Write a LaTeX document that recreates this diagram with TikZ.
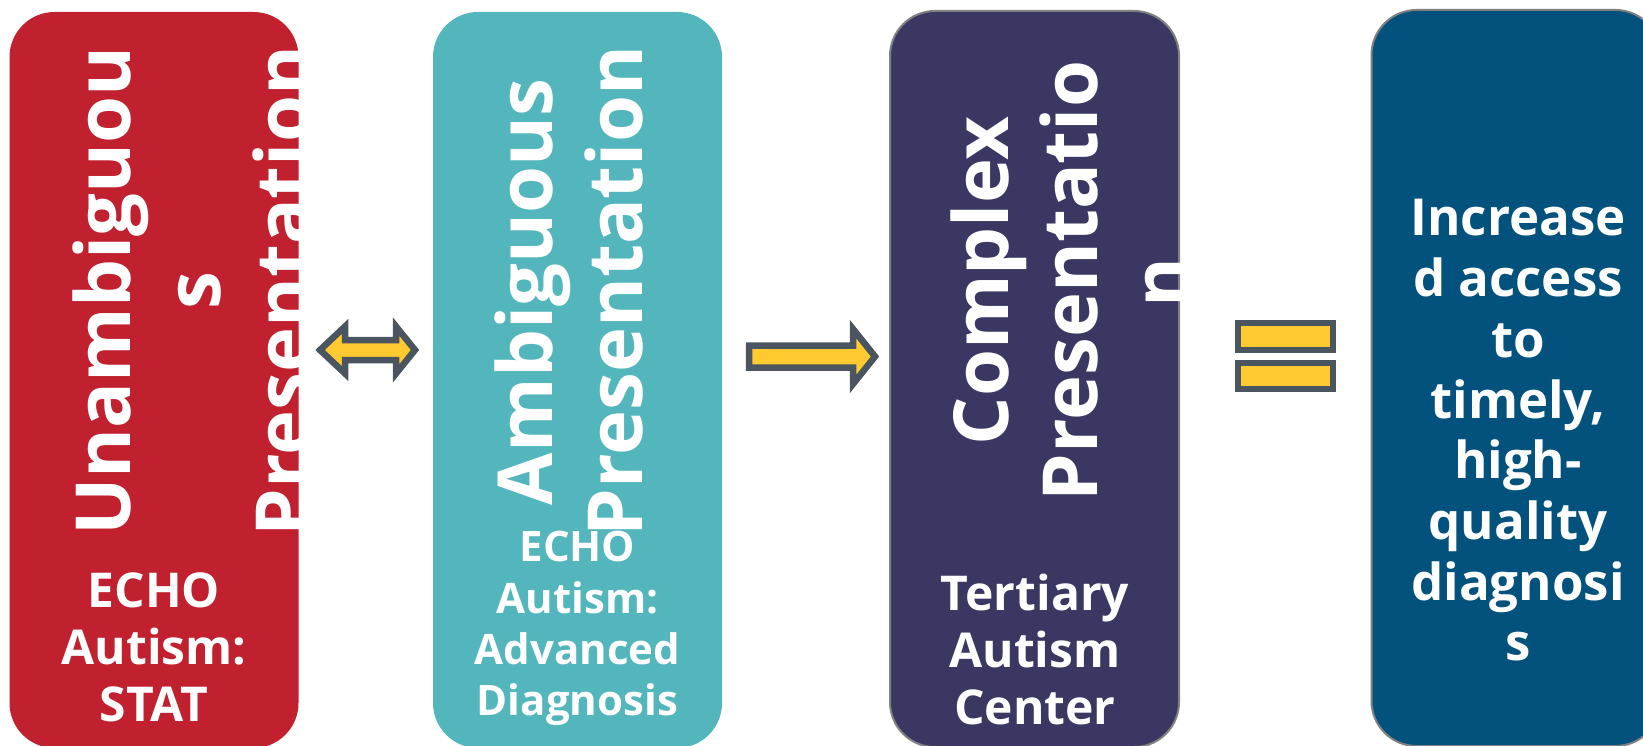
\documentclass[tikz,border=0pt]{standalone}
\usepackage{fontspec}
\setmainfont{Open Sans}
\definecolor{cRed}{HTML}{C1202F}
\definecolor{cTeal}{HTML}{53B6BC}
\definecolor{cPurple}{HTML}{3A3862}
\definecolor{cBlue}{HTML}{03527D}
\definecolor{cBorder}{HTML}{808080}
\definecolor{cArrowFill}{HTML}{FFCA2F}
\definecolor{cArrowLine}{HTML}{4A5560}
\begin{document}
\begin{tikzpicture}[x=1pt,y=-1pt,
  panel/.style={rectangle, rounded corners=45pt, minimum width=289pt, minimum height=736pt, inner sep=0pt},
  vtxt/.style={rotate=90, anchor=base, inner sep=0pt, text=white, font=\bfseries\fontsize{76}{90}\selectfont},
  ltxt/.style={anchor=base, inner sep=0pt, text=white, font=\bfseries\fontsize{48}{57}\selectfont},
  ttxt/.style={ltxt, font=\bfseries\fontsize{42}{52}\selectfont},
  btxt/.style={ltxt, font=\bfseries\fontsize{51}{60}\selectfont},
  blockarrow/.style={fill=cArrowFill, draw=cArrowLine, line width=6.5pt, line join=miter}
]
\useasboundingbox (0,0) rectangle (1643,746);

% panels
\node[panel, fill=cRed] (red) at (154,380) {};
\node[panel, fill=cTeal] (teal) at (577.5,380) {};
\node[panel, fill=cPurple, draw=cBorder, line width=2pt] (purple) at (1034.5,379) {};
\node[panel, fill=cBlue, draw=cBorder, line width=2pt] (blue) at (1516,378) {};

% red texts
\begin{scope}
  \clip[rounded corners=45pt] (red.north west) rectangle (red.south east);
  \node[vtxt] (r1) at (130,291) {Unambiguou};
  \node[vtxt] (r2) at (220,291) {s};
  \node[vtxt] (r3) at (310,291) {Presentation};
\end{scope}
\node[ltxt] (r4) at (154,607) {ECHO};
\node[ltxt] (r5) at (154,664) {Autism:};
\node[ltxt] (r6) at (154,721) {STAT};

% teal texts
\begin{scope}
  \clip[rounded corners=45pt] (teal.north west) rectangle (teal.south east);
  \node[vtxt] (t1) at (552,292) {Ambiguous};
  \node[vtxt] (t2) at (642,291) {Presentation};
\end{scope}
\node[ttxt] (t3) at (577.5,561) {ECHO};
\node[ttxt] (t4) at (577.5,613) {Autism:};
\node[ttxt] (t5) at (577.5,664) {Advanced};
\node[ttxt] (t6) at (577.5,715) {Diagnosis};

% purple texts
\begin{scope}
  \clip[rounded corners=45pt] (purple.north west) rectangle (purple.south east);
  \node[vtxt] (p1) at (1008,281) {Complex};
  \node[vtxt] (p2) at (1097,281) {Presentatio};
  \node[vtxt] (p3) at (1187,283) {n};
\end{scope}
\node[ltxt] (p4) at (1035,610) {Tertiary};
\node[ltxt] (p5) at (1035,667) {Autism};
\node[ltxt] (p6) at (1035,724) {Center};

% blue texts
\node[btxt] (b1) at (1518,236) {Increase};
\node[btxt] (b2) at (1518,296.6) {d access};
\node[btxt] (b3) at (1518,357) {to};
\node[btxt] (b4) at (1518,418) {timely,};
\node[btxt] (b5) at (1518,478) {high-};
\node[btxt] (b6) at (1518,539) {quality};
\node[btxt] (b7) at (1518,600) {diagnosi};
\node[btxt] (b8) at (1518,660) {s};

% block arrows
\draw[blockarrow] (320,350) -- (345,326.5) -- (345,340) -- (396,340) -- (396,326.5)
  -- (415,350) -- (396,373.5) -- (396,360) -- (345,360) -- (345,373.5) -- cycle;
\draw[blockarrow] (749,345.5) -- (853,345.5) -- (853,329) -- (875,356.5) -- (853,384)
  -- (853,367.5) -- (749,367.5) -- cycle;
% equals sign
\draw[blockarrow] (1238,323) rectangle (1333,350);
\draw[blockarrow] (1238,363) rectangle (1333,389);
\end{tikzpicture}
\end{document}
